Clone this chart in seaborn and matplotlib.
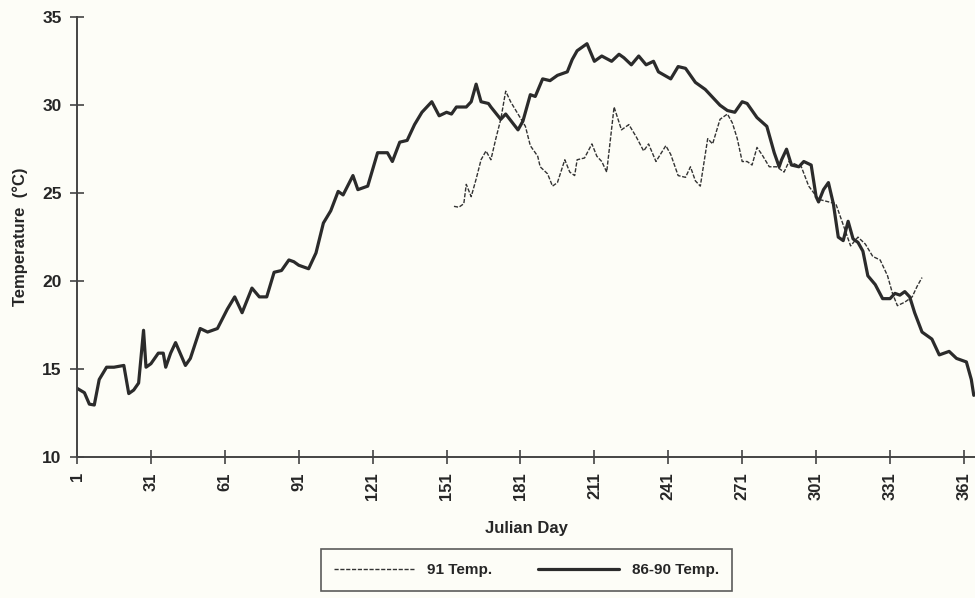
import numpy as np
import pandas as pd
import seaborn as sns
import matplotlib
import matplotlib.pyplot as plt

matplotlib.use('Agg')
sns.set_style("white")
plt.rcParams['font.family'] = ['Liberation Sans', 'DejaVu Sans']

# ---------------------------- datos
dias_8690 = [1, 4, 6, 8, 10, 13, 16, 20, 22, 24, 26, 28, 29, 31, 34, 36, 37, 39, 41, 45,
             47, 51, 54, 58, 62, 65, 68, 72, 75, 78, 81, 84, 87, 89, 91, 95, 98, 101, 104, 107,
             109, 113, 115, 119, 123, 127, 129, 132, 135, 138, 141, 145, 148, 151, 153, 155, 159, 161, 163, 165,
             168, 169, 173, 175, 180, 182, 185, 187, 190, 193, 196, 200, 202, 204, 208, 211, 214, 218, 221, 223,
             226, 229, 232, 235, 237, 242, 245, 248, 252, 256, 258, 262, 265, 268, 271, 273, 277, 281, 284, 286,
             287, 289, 291, 294, 296, 299, 301, 302, 304, 306, 308, 310, 312, 314, 316, 318, 320, 322, 325, 328,
             331, 333, 335, 337, 339, 341, 344, 348, 351, 355, 358, 362, 364, 365]
temp_8690 = [13.9, 13.65, 13.0, 12.95, 14.4, 15.1, 15.1, 15.2, 13.6, 13.8, 14.2, 17.2, 15.1, 15.3, 15.9, 15.9, 15.1, 15.9, 16.5, 15.2,
             15.6, 17.3, 17.1, 17.3, 18.4, 19.1, 18.2, 19.6, 19.1, 19.1, 20.5, 20.6, 21.2, 21.1, 20.9, 20.7, 21.6, 23.3, 24.0, 25.1,
             24.9, 26.0, 25.2, 25.4, 27.3, 27.3, 26.8, 27.9, 28.0, 28.9, 29.6, 30.2, 29.4, 29.6, 29.5, 29.9, 29.9, 30.2, 31.2, 30.2,
             30.1, 29.9, 29.2, 29.5, 28.6, 29.1, 30.6, 30.5, 31.5, 31.4, 31.7, 31.9, 32.6, 33.1, 33.5, 32.5, 32.8, 32.5, 32.9, 32.7,
             32.3, 32.8, 32.3, 32.5, 31.9, 31.5, 32.2, 32.1, 31.3, 30.9, 30.6, 30.0, 29.7, 29.6, 30.2, 30.1, 29.3, 28.8, 27.3, 26.5,
             26.9, 27.5, 26.6, 26.5, 26.8, 26.6, 24.8, 24.5, 25.2, 25.6, 24.4, 22.5, 22.3, 23.4, 22.4, 22.2, 21.7, 20.3, 19.8, 19.0,
             19.0, 19.3, 19.2, 19.4, 19.1, 18.2, 17.1, 16.7, 15.8, 16.0, 15.6, 15.4, 14.4, 13.5]

dias_91 = [154, 156, 158, 159, 161, 163, 165, 167, 169, 171, 173, 175, 177, 180, 183, 185, 188, 189, 192, 194,
           196, 199, 201, 203, 204, 207, 210, 212, 214, 216, 219, 222, 225, 228, 231, 233, 236, 240, 242, 245,
           248, 250, 252, 254, 257, 259, 262, 265, 267, 269, 271, 273, 275, 277, 279, 282, 285, 288, 290, 295,
           298, 302, 309, 312, 315, 318, 321, 324, 327, 330, 332, 334, 337, 340, 342, 344]
temp_91 = [24.25, 24.2, 24.4, 25.5, 24.8, 25.8, 26.9, 27.4, 26.9, 28.1, 29.2, 30.8, 30.2, 29.5, 28.8, 27.7, 27.1, 26.5, 26.1, 25.4,
           25.6, 26.9, 26.2, 26.0, 26.9, 27.0, 27.8, 27.1, 26.8, 26.2, 29.9, 28.6, 28.9, 28.2, 27.4, 27.8, 26.8, 27.7, 27.2, 26.0,
           25.9, 26.5, 25.7, 25.4, 28.1, 27.8, 29.2, 29.5, 29.0, 28.1, 26.8, 26.8, 26.6, 27.6, 27.2, 26.5, 26.5, 26.2, 26.8, 26.5,
           25.4, 24.65, 24.4, 23.2, 22.0, 22.5, 22.1, 21.4, 21.2, 20.3, 19.3, 18.6, 18.8, 19.1, 19.7, 20.2]

ticks_x = list(range(1, 362, 30))
ticks_y = [10, 15, 20, 25, 30, 35]

df_8690 = pd.DataFrame({'Dia': dias_8690, 'Temp': temp_8690})
df_91 = pd.DataFrame({'Dia': dias_91, 'Temp': temp_91})

fondo = '#fdfdf7'
fig = plt.figure(figsize=(9.75, 5.98), dpi=100, facecolor=fondo)
ax = fig.add_axes([0.079, 0.236, 0.921, 0.735])
ax.set_facecolor(fondo)

sns.lineplot(data=df_91, x='Dia', y='Temp', ax=ax, color='#333333', linewidth=1.0,
             linestyle=(0, (3, 1.2)), label='91 Temp.')
sns.lineplot(data=df_8690, x='Dia', y='Temp', ax=ax, color='#2b2b2b', linewidth=2.3,
             label='86-90 Temp.')

ax.set_xlim(1, 365.5)
ax.set_ylim(10, 35)
ax.set_xticks(ticks_x)
ax.set_xticklabels([str(t) for t in ticks_x], rotation=90, fontweight='bold', fontsize=12)
ax.set_yticks(ticks_y)
ax.set_yticklabels([str(t) for t in ticks_y], fontweight='bold', fontsize=12.5)
ax.tick_params(axis='both', bottom=True, left=True, direction='inout', length=10,
               width=1.2, color='#444444')
ax.tick_params(axis='x', pad=6)
ax.tick_params(axis='y', pad=6)

for lado in ['top', 'right']:
    ax.spines[lado].set_visible(False)
for lado in ['left', 'bottom']:
    ax.spines[lado].set_color('#444444')
    ax.spines[lado].set_linewidth(1.4)

ax.set_xlabel('Julian Day', fontweight='bold', fontsize=12, labelpad=15)
ax.set_ylabel('Temperature  (°C)', fontweight='bold', fontsize=12, labelpad=10)

leg = ax.legend(loc='center', bbox_to_anchor=(0.54, 0.047), bbox_transform=fig.transFigure,
                ncol=2, frameon=True, fancybox=False, handlelength=5.3, columnspacing=3.0,
                borderpad=0.9, prop={'weight': 'bold', 'size': 11})
leg.get_frame().set_edgecolor('#333333')
leg.get_frame().set_linewidth(1.2)
leg.get_frame().set_facecolor(fondo)

plt.savefig('out.png', dpi=100, facecolor=fondo)
plt.close()
